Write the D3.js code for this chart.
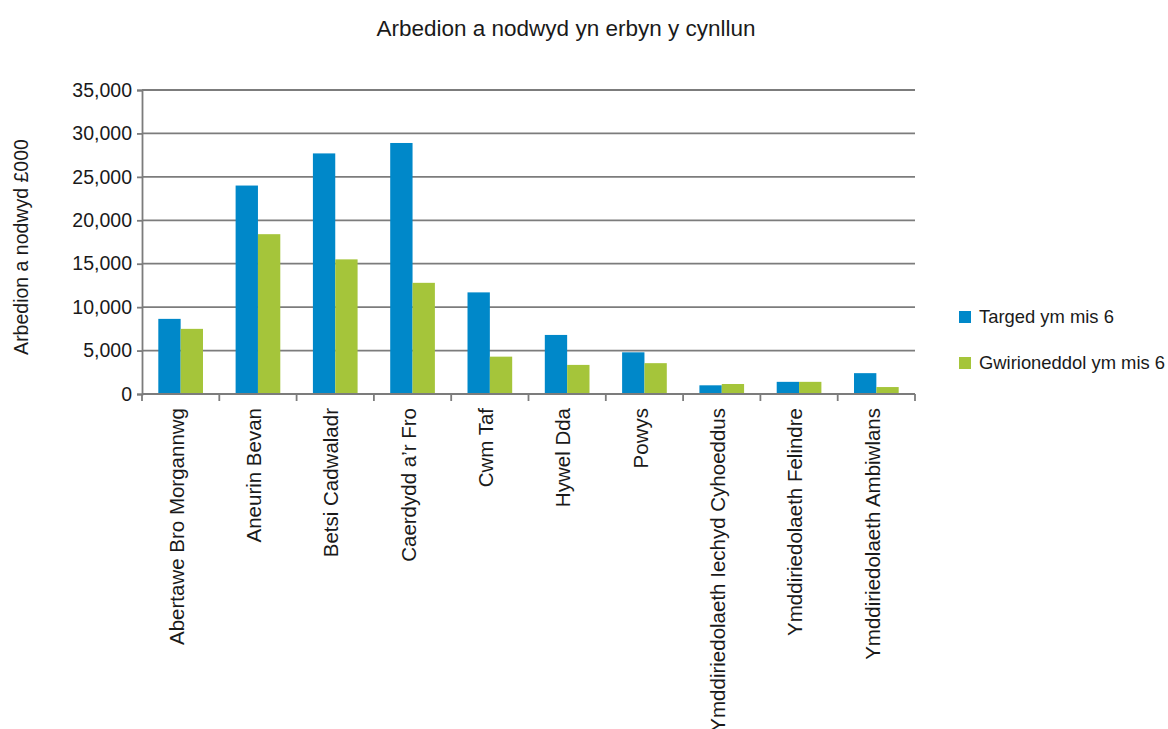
<!DOCTYPE html>
<html>
<head>
<meta charset="utf-8">
<script src="https://cdn.jsdelivr.net/npm/d3@7"></script>
<style>
  body { margin: 0; background: #fff; }
  svg text { font-family: "Liberation Sans", Arial, sans-serif; fill: #1a1a1a; }
</style>
</head>
<body>
<svg id="chart" width="1168" height="729"></svg>
<script>
// Data (£000)
var categories = [
  'Abertawe Bro Morgannwg', 'Aneurin Bevan', 'Betsi Cadwaladr', "Caerdydd a’r Fro",
  'Cwm Taf', 'Hywel Dda', 'Powys', 'Ymddiriedolaeth Iechyd Cyhoeddus',
  'Ymddiriedolaeth Felindre', 'Ymddiriedolaeth Ambiwlans'
];
var seriesNames = ['Targed ym mis 6', 'Gwirioneddol ym mis 6'];
var targetValues = [8650, 24000, 27700, 28900, 11700, 6800, 4800, 1000, 1400, 2400];
var actualValues = [7500, 18400, 15500, 12800, 4300, 3350, 3550, 1150, 1400, 800];
var yTicks = [0, 5000, 10000, 15000, 20000, 25000, 30000, 35000];
var colours = ['#0088c9', '#a5c53a'];

var chart = {};
chart.margin = { left: 142, right: 253, top: 90, bottom: 335 };
chart.width = 1168 - chart.margin.left - chart.margin.right;
chart.height = 729 - chart.margin.top - chart.margin.bottom;

var svg = d3.select('#chart');
var g = svg.append('g')
  .attr('transform', 'translate(' + chart.margin.left + ',' + chart.margin.top + ')');

var x0 = d3.scaleBand().domain(categories).range([0, chart.width]).padding(0);
var x1 = d3.scaleBand().domain(seriesNames).range([0, x0.bandwidth()])
  .paddingInner(0).paddingOuter(0.73);
var y = d3.scaleLinear().domain([0, 35000]).range([chart.height, 0]);

// gridlines
g.selectAll('.grid')
  .data(yTicks)
  .enter().append('line')
  .attr('class', 'grid')
  .attr('x1', 0)
  .attr('x2', chart.width)
  .attr('y1', d => y(d))
  .attr('y2', d => y(d))
  .style('stroke', '#7c7c7c')
  .style('stroke-width', 1.8);

// bars
var rows = categories.map(function(c, i) {
  return { cat: c, values: [targetValues[i], actualValues[i]] };
});

var groups = g.selectAll('.grp')
  .data(rows)
  .enter().append('g')
  .attr('class', 'grp')
  .attr('transform', d => 'translate(' + x0(d.cat) + ',0)');

groups.selectAll('rect')
  .data(d => d.values.map((v, j) => ({ s: seriesNames[j], v: v, j: j })))
  .enter().append('rect')
  .attr('x', d => x1(d.s))
  .attr('width', x1.bandwidth())
  .attr('y', d => y(d.v))
  .attr('height', d => chart.height - y(d.v))
  .style('fill', d => colours[d.j]);

// y axis
var yAxis = d3.axisLeft(y)
  .tickValues(yTicks)
  .tickSize(5)
  .tickPadding(5)
  .tickFormat(d3.format(','));

var yg = g.append('g').call(yAxis);
yg.select('.domain').style('stroke', '#7c7c7c').style('stroke-width', 1.8);
yg.selectAll('.tick line').style('stroke', '#7c7c7c').style('stroke-width', 1.8);
yg.selectAll('.tick text')
  .style('font-size', '19.5px')
  .style('fill', '#1a1a1a');

// x axis line + boundary ticks
g.append('line')
  .attr('x1', 0).attr('x2', chart.width)
  .attr('y1', chart.height).attr('y2', chart.height)
  .style('stroke', '#7c7c7c').style('stroke-width', 1.8);

var boundaries = categories.map(c => x0(c)).concat([chart.width]);
g.selectAll('.xtick')
  .data(boundaries)
  .enter().append('line')
  .attr('class', 'xtick')
  .attr('x1', d => d).attr('x2', d => d)
  .attr('y1', chart.height).attr('y2', chart.height + 7)
  .style('stroke', '#7c7c7c').style('stroke-width', 1.8);

// category labels, rotated (the long one runs off the bottom, as in the original)
g.selectAll('.xlabel')
  .data(categories)
  .enter().append('text')
  .attr('class', 'xlabel')
  .attr('transform', d => 'translate(' + (x0(d) + x0.bandwidth() / 2 - 4) + ',' + (chart.height + 14) + ') rotate(-90)')
  .attr('dy', '0.35em')
  .attr('text-anchor', 'end')
  .style('font-size', '20.5px')
  .text(d => d);

// title
svg.append('text')
  .attr('x', 566)
  .attr('y', 36)
  .attr('text-anchor', 'middle')
  .style('font-size', '22.5px')
  .text('Arbedion a nodwyd yn erbyn y cynllun');

// y axis title
svg.append('text')
  .attr('transform', 'translate(28,247) rotate(-90)')
  .attr('text-anchor', 'middle')
  .style('font-size', '19.5px')
  .text('Arbedion a nodwyd £000');

// legend
var legend = svg.append('g').attr('transform', 'translate(959,311)');
var items = legend.selectAll('.leg')
  .data(seriesNames)
  .enter().append('g')
  .attr('class', 'leg')
  .attr('transform', (d, i) => 'translate(0,' + (i * 46) + ')');

items.append('rect')
  .attr('width', 12).attr('height', 12)
  .style('fill', (d, i) => colours[i]);

items.append('text')
  .attr('x', 20)
  .attr('y', 6)
  .attr('dy', '0.35em')
  .style('font-size', '18.4px')
  .text(d => d);
</script>
</body>
</html>
